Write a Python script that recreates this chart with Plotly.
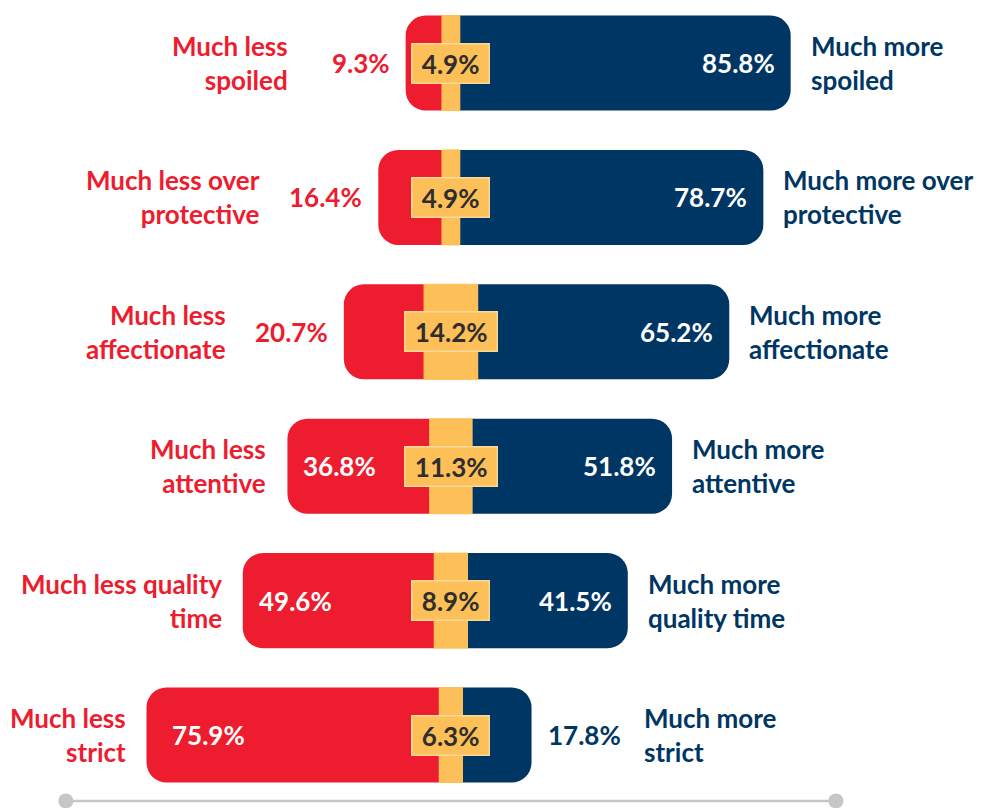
import plotly.graph_objects as go

# ---- data ----
less_labels = ["Much less<br>spoiled", "Much less over<br>protective", "Much less<br>affectionate",
               "Much less<br>attentive", "Much less quality<br>time", "Much less<br>strict"]
more_labels = ["Much more<br>spoiled", "Much more over<br>protective", "Much more<br>affectionate",
               "Much more<br>attentive", "Much more<br>quality time", "Much more<br>strict"]
less_vals = [9.3, 16.4, 20.7, 36.8, 49.6, 75.9]
neutral_vals = [4.9, 4.9, 14.2, 11.3, 8.9, 6.3]
more_vals = [85.8, 78.7, 65.2, 51.8, 41.5, 17.8]

RED = "#ED1C2E"
YEL = "#FDBF57"
NAVY = "#003663"
DARK = "#2E2E2E"
GRAY = "#C6C6C6"
FONT = "Lato"
FS = 26
INSIDE_MIN = 25

rows = list(range(len(less_vals)))
half = [n / 2 for n in neutral_vals]

fig = go.Figure()
# stacked outward from centre: neutral halves first, then less / more
fig.add_trace(go.Bar(y=rows, x=[-h for h in half], orientation="h",
                     marker=dict(color=YEL, line=dict(width=1, color=YEL)), hoverinfo="skip"))
fig.add_trace(go.Bar(y=rows, x=half, orientation="h",
                     marker=dict(color=YEL, line=dict(width=1, color=YEL)), hoverinfo="skip"))
fig.add_trace(go.Bar(y=rows, x=[-v for v in less_vals], orientation="h",
                     marker=dict(color=RED, line=dict(width=0)), hoverinfo="skip"))
fig.add_trace(go.Bar(y=rows, x=more_vals, orientation="h",
                     marker=dict(color=NAVY, line=dict(width=0)), hoverinfo="skip"))

# bottom axis-like rule
AXIS_SPAN = 100
rule_y = 5.49
fig.add_trace(go.Scatter(x=[-AXIS_SPAN, AXIS_SPAN], y=[rule_y, rule_y], mode="lines+markers",
                         line=dict(color=GRAY, width=2.5), marker=dict(color=GRAY, size=15),
                         cliponaxis=False, hoverinfo="skip"))

ann = []
NB = "&nbsp;"
for i in rows:
    left_end = -(less_vals[i] + half[i])
    right_end = more_vals[i] + half[i]
    # neutral label box
    ann.append(dict(x=0, y=i, text=f"{NB}{neutral_vals[i]}%{NB}", showarrow=False,
                    font=dict(family=FONT, size=FS, color=DARK, weight="bold"),
                    bgcolor=YEL, bordercolor="#F9D99B", borderwidth=1.5, borderpad=3))
    # less value
    if less_vals[i] >= INSIDE_MIN:
        ann.append(dict(x=left_end, y=i, text=f"{less_vals[i]}%", showarrow=False, xanchor="left",
                        xshift=14 if i < 5 else 23,
                        font=dict(family=FONT, size=FS, color="white", weight="bold")))
        lshift = -19
    else:
        ann.append(dict(x=left_end, y=i, text=f"{less_vals[i]}%", showarrow=False, xanchor="right",
                        xshift=-14, font=dict(family=FONT, size=FS, color=RED, weight="bold")))
        lshift = -116
    ann.append(dict(x=left_end, y=i, text=less_labels[i], showarrow=False, xanchor="right",
                    align="right", xshift=lshift,
                    font=dict(family=FONT, size=FS, color=RED, weight="bold")))
    # more value
    if more_vals[i] >= INSIDE_MIN:
        ann.append(dict(x=right_end, y=i, text=f"{more_vals[i]}%", showarrow=False, xanchor="right",
                        xshift=-14, font=dict(family=FONT, size=FS, color="white", weight="bold")))
        rshift = 18
    else:
        ann.append(dict(x=right_end, y=i, text=f"{more_vals[i]}%", showarrow=False, xanchor="left",
                        xshift=14, font=dict(family=FONT, size=FS, color=NAVY, weight="bold")))
        rshift = 110
    ann.append(dict(x=right_end, y=i, text=more_labels[i], showarrow=False, xanchor="left",
                    align="left", xshift=rshift,
                    font=dict(family=FONT, size=FS, color=NAVY, weight="bold")))

fig.update_layout(
    width=983, height=808, barmode="relative", bargap=0.293, barcornerradius=20,
    showlegend=False,
    margin=dict(l=0, r=0, t=0, b=0), paper_bgcolor="white", plot_bgcolor="white",
    xaxis=dict(range=[-117.1, 138.2], visible=False, fixedrange=True),
    yaxis=dict(range=[5.543, -0.469], visible=False, fixedrange=True),
    annotations=ann,
)
fig.write_html("out.html", config={"displayModeBar": False},
               post_script="document.body.style.margin='0';")
